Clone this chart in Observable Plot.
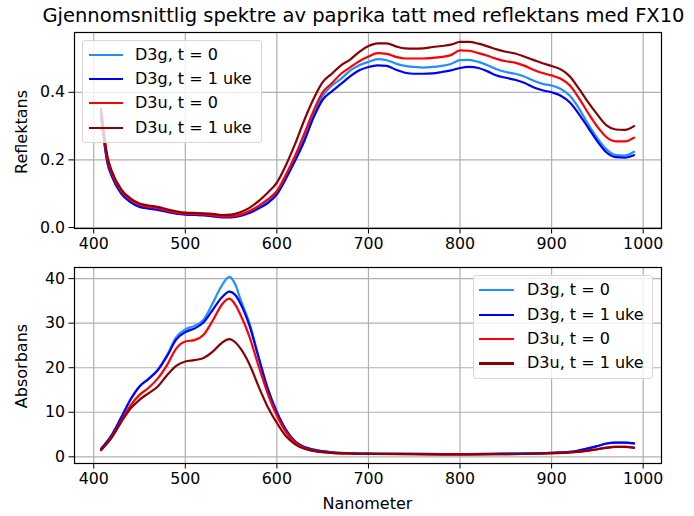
<!DOCTYPE html>
<html>
<head>
<meta charset="utf-8">
<script src="https://cdn.jsdelivr.net/npm/d3@7"></script>
<script src="https://cdn.jsdelivr.net/npm/@observablehq/plot@0.6"></script>
<style>
  html, body { margin: 0; padding: 0; background: #fff; }
  #wrap { position: relative; width: 694px; height: 516px; font-family: "DejaVu Sans", sans-serif; overflow: hidden; }
  #wrap > svg, #wrap > div.plot { position: absolute; left: 0; overflow: visible; }
  .legend { position: absolute; background: rgba(255,255,255,0.8); border: 1px solid #d6d6d6; border-radius: 3px; box-sizing: border-box; }
  .legend .row { position: absolute; height: 20px; font-size: 16px; line-height: 20px; color: #000; white-space: nowrap; }
  .legend .sw { position: absolute; height: 2.2px; }
</style>
</head>
<body>
<div id="wrap"></div>
<script>
const seriesNames = ["D3g, t = 0", "D3g, t = 1 uke", "D3u, t = 0", "D3u, t = 1 uke"];
const seriesColors = ["#1E90FF", "#0000FF", "#FF0000", "#8B0000"];
const xTicks = [400, 500, 600, 700, 800, 900, 1000];
const yTicksR = [0.0, 0.2, 0.4];
const yTicksA = [0, 10, 20, 30, 40];

// Reflectance wavelengths
const nmR = [408, 415, 420, 430, 440, 450, 460, 470, 480, 490, 500, 510, 520, 530, 540, 550, 560, 570, 580, 590,
  600, 610, 620, 630, 640, 650, 660, 670, 680, 690, 700, 710, 720, 730, 740, 750, 760, 770, 780, 790,
  800, 810, 820, 830, 840, 850, 860, 870, 880, 890, 900, 910, 920, 930, 940, 950, 960, 970, 980, 990];
const refl_D3g_t0 = [0.332, 0.192, 0.152, 0.102, 0.077, 0.063, 0.058, 0.054, 0.048, 0.043, 0.040, 0.039, 0.038, 0.035, 0.032, 0.032, 0.036, 0.045, 0.059, 0.076,
  0.102, 0.150, 0.205, 0.265, 0.335, 0.390, 0.420, 0.440, 0.464, 0.480, 0.490, 0.498, 0.495, 0.485, 0.478, 0.475, 0.473, 0.475, 0.478, 0.484,
  0.495, 0.496, 0.490, 0.480, 0.468, 0.460, 0.455, 0.447, 0.435, 0.425, 0.420, 0.410, 0.390, 0.352, 0.305, 0.264, 0.231, 0.214, 0.213, 0.224];
const refl_D3g_t1 = [0.330, 0.190, 0.150, 0.100, 0.075, 0.061, 0.056, 0.052, 0.046, 0.041, 0.038, 0.037, 0.036, 0.033, 0.030, 0.030, 0.034, 0.043, 0.056, 0.072,
  0.098, 0.145, 0.198, 0.256, 0.325, 0.378, 0.403, 0.425, 0.447, 0.465, 0.475, 0.480, 0.478, 0.467, 0.458, 0.455, 0.455, 0.456, 0.460, 0.465,
  0.472, 0.475, 0.472, 0.462, 0.450, 0.443, 0.437, 0.428, 0.415, 0.406, 0.400, 0.390, 0.370, 0.335, 0.295, 0.255, 0.222, 0.208, 0.207, 0.214];
const refl_D3u_t0 = [0.340, 0.200, 0.158, 0.108, 0.082, 0.067, 0.061, 0.057, 0.050, 0.044, 0.041, 0.040, 0.039, 0.036, 0.033, 0.033, 0.038, 0.049, 0.064, 0.083,
  0.108, 0.157, 0.213, 0.278, 0.345, 0.400, 0.427, 0.455, 0.474, 0.492, 0.506, 0.516, 0.514, 0.505, 0.500, 0.500, 0.500, 0.502, 0.505, 0.510,
  0.524, 0.523, 0.516, 0.508, 0.499, 0.492, 0.488, 0.479, 0.467, 0.457, 0.450, 0.440, 0.420, 0.382, 0.338, 0.298, 0.267, 0.255, 0.255, 0.266];
const refl_D3u_t1 = [0.350, 0.210, 0.165, 0.113, 0.086, 0.071, 0.065, 0.061, 0.054, 0.048, 0.044, 0.043, 0.042, 0.040, 0.037, 0.038, 0.045, 0.058, 0.078, 0.103,
  0.133, 0.185, 0.248, 0.318, 0.380, 0.430, 0.455, 0.480, 0.497, 0.520, 0.537, 0.545, 0.545, 0.536, 0.530, 0.529, 0.530, 0.534, 0.537, 0.541,
  0.549, 0.549, 0.544, 0.536, 0.527, 0.520, 0.515, 0.506, 0.496, 0.486, 0.478, 0.468, 0.447, 0.410, 0.370, 0.334, 0.302, 0.290, 0.289, 0.300];

// Absorbance wavelengths
const nmA = [408, 420, 430, 440, 450, 460, 470, 480, 490, 500, 510, 520, 530, 540, 548, 555, 560, 570, 580, 590,
  600, 610, 620, 630, 640, 660, 680, 700, 750, 800, 850, 900, 920, 940, 950, 960, 970, 980, 990];
const abs_D3g_t0 = [1.8, 5.0, 8.8, 12.8, 15.8, 17.5, 19.5, 22.8, 26.8, 28.6, 29.4, 30.8, 34.5, 38.5, 40.4, 38.5, 35.5, 30.0, 22.5, 15.3,
  10.0, 6.0, 3.4, 2.2, 1.6, 1.0, 0.8, 0.7, 0.65, 0.6, 0.7, 0.9, 1.1, 1.9, 2.4, 3.0, 3.2, 3.2, 3.0];
const abs_D3g_t1 = [1.8, 5.0, 8.8, 12.8, 15.8, 17.5, 19.5, 22.6, 26.3, 28.0, 28.8, 30.2, 33.0, 35.8, 37.1, 36.2, 34.5, 29.5, 22.3, 15.3,
  10.0, 6.0, 3.4, 2.2, 1.6, 1.0, 0.8, 0.7, 0.65, 0.6, 0.7, 0.9, 1.1, 1.9, 2.4, 3.0, 3.2, 3.2, 3.0];
const abs_D3u_t0 = [1.6, 4.6, 8.0, 11.5, 13.9, 15.5, 17.6, 20.6, 24.3, 25.9, 26.2, 27.4, 30.6, 34.2, 35.5, 34.0, 32.0, 27.0, 20.4, 14.2,
  9.2, 5.5, 3.2, 2.0, 1.4, 0.9, 0.75, 0.65, 0.6, 0.55, 0.6, 0.8, 1.0, 1.4, 1.7, 2.1, 2.3, 2.3, 2.1];
const abs_D3u_t1 = [1.5, 4.4, 7.8, 10.8, 12.8, 14.3, 15.8, 18.3, 20.4, 21.4, 21.7, 22.2, 23.6, 25.6, 26.4, 25.6, 24.4, 20.8, 15.8, 11.2,
  7.6, 4.6, 2.8, 1.8, 1.3, 0.9, 0.75, 0.65, 0.6, 0.55, 0.6, 0.8, 1.0, 1.4, 1.7, 2.0, 2.2, 2.2, 2.0];

const reflSeries = [refl_D3g_t0, refl_D3g_t1, refl_D3u_t0, refl_D3u_t1];
const absSeries = [abs_D3g_t0, abs_D3g_t1, abs_D3u_t0, abs_D3u_t1];

function toRows(nm, series) {
  const rows = [];
  series.forEach((vals, i) => vals.forEach((v, j) => rows.push({nm: nm[j], v, s: seriesNames[i]})));
  return rows;
}

const W = 694;
const xDomain = [379, 1020];

function panel({rows, yDomain, yTicks, yFmt, height, mt, mb}) {
  return Plot.plot({
    width: W, height,
    marginLeft: 74, marginRight: 33, marginTop: mt, marginBottom: mb,
    style: {fontFamily: "DejaVu Sans", fontSize: "15.8px", color: "#000", background: "transparent", overflow: "visible"},
    x: {domain: xDomain},
    y: {domain: yDomain},
    color: {domain: seriesNames, range: seriesColors},
    marks: [
      Plot.gridX(xTicks, {stroke: "#b0b0b0", strokeOpacity: 1, strokeWidth: 1.2}),
      Plot.gridY(yTicks, {stroke: "#b0b0b0", strokeOpacity: 1, strokeWidth: 1.2}),
      Plot.line(rows, {x: "nm", y: "v", z: "s", stroke: "s", strokeWidth: 2.2, curve: "monotone-x"}),
      Plot.frame({stroke: "#000", strokeWidth: 1.2}),
      Plot.axisX({ticks: xTicks, tickSize: 5.5, tickPadding: 4, label: null, tickFormat: d3.format("d"), stroke: "#000", fontSize: 15.8}),
      Plot.axisY({ticks: yTicks, tickSize: 5.5, tickPadding: 4, label: null, tickFormat: yFmt, stroke: "#000", fontSize: 15.8})
    ]
  });
}

const wrap = document.getElementById("wrap");

// top frame spans y 32..228, bottom frame spans y 267..463
const topPanel = panel({rows: toRows(nmR, reflSeries), yDomain: [-0.003, 0.577], yTicks: yTicksR, yFmt: d3.format(".1f"), height: 258, mt: 32, mb: 30});
topPanel.style.top = "0px";
wrap.appendChild(topPanel);

const botPanel = panel({rows: toRows(nmA, absSeries), yDomain: [-1.5, 42.5], yTicks: yTicksA, yFmt: d3.format("d"), height: 258, mt: 9, mb: 53});
botPanel.style.top = "258px";
wrap.appendChild(botPanel);

// Text overlay: title and axis labels
const ns = "http://www.w3.org/2000/svg";
const ov = document.createElementNS(ns, "svg");
ov.setAttribute("width", W); ov.setAttribute("height", 516);
ov.style.position = "absolute"; ov.style.left = "0"; ov.style.top = "0"; ov.style.pointerEvents = "none";
wrap.appendChild(ov);
function addText(str, x, y, size, anchor, rot) {
  const t = document.createElementNS(ns, "text");
  t.textContent = str;
  t.setAttribute("x", x); t.setAttribute("y", y);
  t.setAttribute("font-size", size);
  t.setAttribute("font-family", "DejaVu Sans");
  t.setAttribute("text-anchor", anchor);
  t.setAttribute("fill", "#000");
  if (rot) t.setAttribute("transform", `rotate(${rot} ${x} ${y})`);
  ov.appendChild(t);
  return t;
}
const title = addText("Gjennomsnittlig spektre av paprika tatt med reflektans med FX10", 363.5, 22, 18.5, "middle");
const tw = title.getComputedTextLength();
if (tw > 0) title.setAttribute("font-size", Math.min(19.5, 18.5 * 645 / tw).toFixed(2));
addText("Reflektans", 26.5, 132, 16, "middle", -90);
addText("Absorbans", 26.5, 366, 16, "middle", -90);
addText("Nanometer", 367.5, 509, 16, "middle");

// Legends
function legend(left, topPx, w, h, lineX0, lineX1, textX, rowsY) {
  const box = document.createElement("div");
  box.className = "legend";
  box.style.left = left + "px"; box.style.top = topPx + "px";
  box.style.width = w + "px"; box.style.height = h + "px";
  seriesNames.forEach((name, i) => {
    const sw = document.createElement("div");
    sw.className = "sw";
    sw.style.left = (lineX0 - left) + "px";
    sw.style.width = (lineX1 - lineX0) + "px";
    sw.style.top = (rowsY[i] - topPx - 1) + "px";
    sw.style.background = seriesColors[i];
    box.appendChild(sw);
    const r = document.createElement("div");
    r.className = "row";
    r.style.left = (textX - left) + "px";
    r.style.top = (rowsY[i] - topPx - 10) + "px";
    r.textContent = name;
    box.appendChild(r);
  });
  wrap.appendChild(box);
}
legend(82, 40, 180, 103, 87.5, 121.5, 134, [53.5, 77.8, 102.2, 126.6]);
legend(473, 275, 180, 104, 478, 513, 526, [289.3, 313.6, 338, 362.4]);
</script>
</body>
</html>
